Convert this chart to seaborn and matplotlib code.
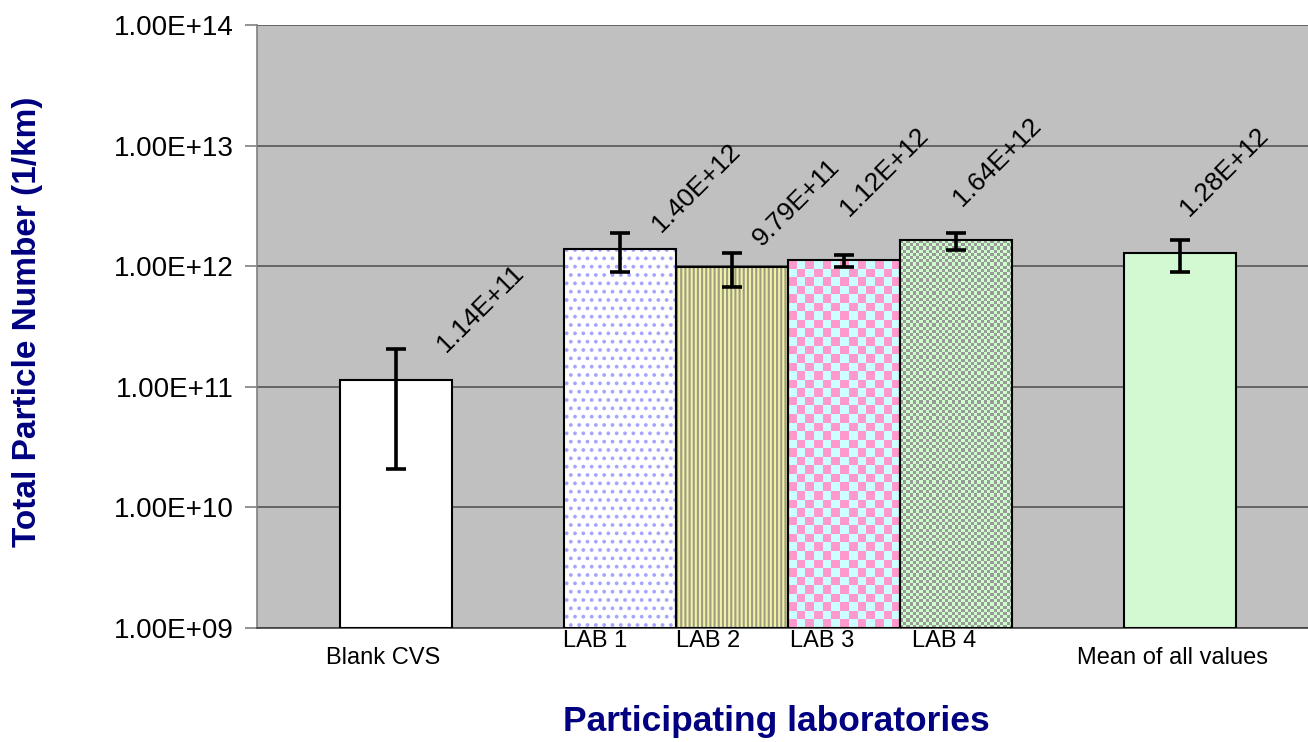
import numpy as np
import pandas as pd
import seaborn as sns
import matplotlib.pyplot as plt
import matplotlib.transforms as mtransforms
from matplotlib.patches import Rectangle
from matplotlib.colors import to_rgb
from matplotlib.ticker import FuncFormatter, NullLocator

# data
categories = ["Blank CVS", "LAB 1", "LAB 2", "LAB 3", "LAB 4", "Mean of all values"]
values = [1.14e11, 1.40e12, 9.79e11, 1.12e12, 1.64e12, 1.28e12]
err_low = [2.08e10, 8.95e11, 6.70e11, 9.85e11, 1.36e12, 8.95e11]
err_high = [2.06e11, 1.88e12, 1.29e12, 1.24e12, 1.88e12, 1.65e12]
value_labels = ["1.14E+11", "1.40E+12", "9.79E+11", "1.12E+12", "1.64E+12", "1.28E+12"]
y_ticks = [1e9, 1e10, 1e11, 1e12, 1e13, 1e14]

# category slots, with empty slots between the groups
order = ["Blank CVS", "_gap1", "LAB 1", "LAB 2", "LAB 3", "LAB 4", "_gap2", "Mean of all values"]

# styling
face_colors = ["#FFFFFF", "#FFFFFF", "#FFFF99", "#CCFFFF", "#CCFFCC", "#CCFFCC"]
hatches = {"LAB 1": ("..", "#A5A5FF"), "LAB 2": ("||||", "#9C9C84")}
checkers = {"LAB 3": (8.5, "#FF99CC", "#CCFFFF"), "LAB 4": (3.2, "#999999", "#CCFFCC")}
# pixel offsets of the rotated value labels from the bar top
label_offsets = [(50, 27), (41, 16), (30, 20), (5, 43), (6, 33), (9, 36)]
# pixel offsets of the category names below the axis
cat_offsets = [(-13, -30), (-25, -13), (-24, -13), (-22, -13), (-12, -13), (-8, -30)]
navy = "#000080"

sns.set_theme(style="white")
plt.rcParams['font.family'] = ['Liberation Sans', 'DejaVu Sans']
plt.rcParams['hatch.linewidth'] = 1.5

fig = plt.figure(figsize=(13.08, 7.42), dpi=100)
ax = fig.add_axes([0.1965, 0.1536, 0.8035, 0.8127])
ax.set_facecolor("#C0C0C0")

df = pd.DataFrame({"category": categories, "value": values})
sns.barplot(data=df, x="category", y="value", hue="category", order=order,
            hue_order=categories, palette=dict(zip(categories, face_colors)),
            width=1.0, errorbar=None, legend=False, ax=ax,
            edgecolor="none", linewidth=0, zorder=2)

ax.set_yscale("log")
ax.set_ylim(1e9, 1e14)
ax.set_xlim(-1.24, 8.14)
bottom = ax.get_ylim()[0]

bars = sorted([p for p in ax.patches if p.get_height() > 0], key=lambda p: p.get_x())
to_axes = ax.transData + ax.transAxes.inverted()

for cat, p in zip(categories, bars):
    x0, w, top = p.get_x(), p.get_width(), p.get_height()
    if cat in hatches:
        h, hc = hatches[cat]
        p.set_hatch(h)
        p.set_edgecolor(hc)
        p.set_linewidth(0)
    if cat in checkers:
        cell, c1, c2 = checkers[cat]
        (px0, py0), (px1, py1) = ax.transData.transform([(x0, bottom), (x0 + w, top)])
        nx = max(1, int(round((px1 - px0) / cell)))
        ny = max(1, int(round((py1 - py0) / cell)))
        grid = np.add.outer(np.arange(ny), np.arange(nx)) % 2
        rgb = np.where(grid[..., None] == 0, np.array(to_rgb(c1)), np.array(to_rgb(c2)))
        (ax0, ay0), (ax1, ay1) = to_axes.transform([(x0, bottom), (x0 + w, top)])
        ax.imshow(rgb, extent=(ax0, ax1, ay0, ay1), transform=ax.transAxes,
                  interpolation="nearest", aspect="auto", zorder=2.5)
    ax.add_patch(Rectangle((x0, bottom), w, top - bottom, fill=False,
                           edgecolor="black", linewidth=1.5, zorder=3))

ax.set_ylim(1e9, 1e14)
ax.set_xlim(-1.24, 8.14)

x_pos = [order.index(c) for c in categories]
yerr = [np.array(values) - np.array(err_low), np.array(err_high) - np.array(values)]
ax.errorbar(x_pos, values, yerr=yerr, fmt="none", ecolor="black",
            elinewidth=2.6, capsize=7, capthick=2.6, zorder=4)

for x, v, txt, (dx, dy) in zip(x_pos, values, value_labels, label_offsets):
    ax.annotate(txt, xy=(x, v), xytext=(dx, dy), textcoords="offset pixels",
                rotation=45, rotation_mode="anchor", ha="left", va="baseline",
                fontsize=19, color="black", zorder=5)

# category names
xaxis_tr = ax.get_xaxis_transform()
for x, cat, (dx, dy) in zip(x_pos, categories, cat_offsets):
    off = mtransforms.ScaledTranslation(dx / 100, dy / 100, fig.dpi_scale_trans)
    ax.text(x, 0, cat, transform=xaxis_tr + off, ha="center", va="center",
            fontsize=17, color="black")

ax.set_xticks([])
ax.set_yticks(y_ticks)
ax.yaxis.set_minor_locator(NullLocator())
ax.yaxis.set_major_formatter(FuncFormatter(lambda v, p: f"{v:.2E}"))
ax.tick_params(axis="y", which="major", left=True, direction="out", length=9,
               width=1.2, color="#808080", labelsize=20, pad=8, labelcolor="black")
ax.yaxis.grid(True, color="#555555", linewidth=1.2)
ax.xaxis.grid(False)
ax.set_axisbelow(True)
ax.set_xlabel("")
ax.set_ylabel("")

for s in ["top", "right"]:
    ax.spines[s].set_visible(False)
ax.spines["left"].set_color("#808080")
ax.spines["left"].set_linewidth(1.2)
ax.spines["bottom"].set_color("#404040")
ax.spines["bottom"].set_linewidth(1.2)

fig.text(28 / 1308, 1 - 322 / 742, "Total Particle Number (1/km)", rotation=90,
         ha="center", va="center", fontsize=24, fontweight="bold", color=navy)
fig.text(776 / 1308, 1 - 722 / 742, "Participating laboratories",
         ha="center", va="center", fontsize=25.5, fontweight="bold", color=navy)

fig.savefig("out.png", dpi=100)
